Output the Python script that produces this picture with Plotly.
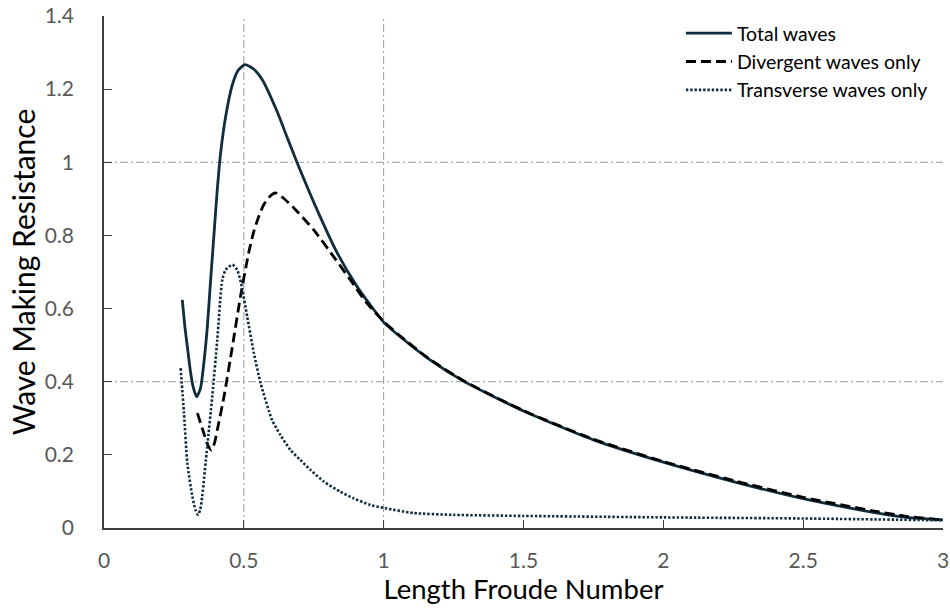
import plotly.graph_objects as go

# ---- data ----
total_x = [0.280, 0.290, 0.298, 0.310, 0.319, 0.331, 0.345, 0.357, 0.369, 0.381, 0.393, 0.405,
           0.417, 0.435, 0.459, 0.480, 0.504, 0.535, 0.566, 0.619, 0.655, 0.691, 0.762, 0.834,
           0.905, 0.95, 1.0, 1.056, 1.162, 1.287, 1.5, 1.75, 2.0, 2.25, 2.5, 2.75, 2.87, 3.0]
total_y = [0.624, 0.545, 0.496, 0.423, 0.385, 0.359, 0.382, 0.451, 0.545, 0.675, 0.800, 0.925,
           1.025, 1.125, 1.212, 1.252, 1.267, 1.255, 1.226, 1.139, 1.068, 0.998, 0.870, 0.752,
           0.660, 0.612, 0.563, 0.525, 0.462, 0.401, 0.320, 0.241, 0.180, 0.127, 0.080, 0.043,
           0.029, 0.022]

div_x = [0.334, 0.357, 0.372, 0.384, 0.395, 0.405, 0.429, 0.459, 0.488, 0.518, 0.536, 0.554,
         0.571, 0.592, 0.613, 0.640, 0.679, 0.750, 0.821, 0.881, 0.94, 1.0, 1.056, 1.162, 1.287,
         1.5, 1.75, 2.0, 2.25, 2.5, 2.75, 2.87, 3.0]
div_y = [0.314, 0.259, 0.225, 0.213, 0.232, 0.268, 0.359, 0.496, 0.633, 0.755, 0.812, 0.853,
         0.884, 0.906, 0.916, 0.903, 0.875, 0.815, 0.742, 0.678, 0.615, 0.565, 0.527, 0.463,
         0.402, 0.321, 0.243, 0.182, 0.130, 0.084, 0.047, 0.032, 0.022]

trans_x = [0.274, 0.286, 0.298, 0.316, 0.327, 0.336, 0.344, 0.351, 0.369, 0.387, 0.405, 0.423,
           0.435, 0.459, 0.476, 0.490, 0.512, 0.536, 0.560, 0.601, 0.631, 0.667, 0.702, 0.738,
           0.786, 0.845, 0.893, 0.952, 1.006, 1.106, 1.25, 1.5, 2.0, 2.5, 3.0]
trans_y = [0.437, 0.314, 0.177, 0.086, 0.050, 0.036, 0.050, 0.086, 0.222, 0.359, 0.514, 0.679,
           0.706, 0.720, 0.706, 0.670, 0.578, 0.478, 0.396, 0.295, 0.254, 0.213, 0.186, 0.159,
           0.127, 0.099, 0.081, 0.063, 0.054, 0.041, 0.036, 0.033, 0.029, 0.026, 0.021]

x_ticks = [0, 0.5, 1, 1.5, 2, 2.5, 3]
x_tick_text = ["0", "0.5", "1", "1.5", "2", "2.5", "3"]
y_ticks = [0, 0.2, 0.4, 0.6, 0.8, 1.0, 1.2, 1.4]
y_tick_text = ["0", "0.2", "0.4", "0.6", "0.8", "1", "1.2", "1.4"]
ref_x = [0.5, 1.0]
ref_y = [0.4, 1.0]

NAVY = "#0f2d3d"
FONT = "Lato"
SPL = dict(shape="spline", smoothing=0.6)

fig = go.Figure()
fig.add_trace(go.Scatter(x=total_x, y=total_y, mode="lines", name="Total waves",
                         line=dict(color=NAVY, width=2.8, **SPL)))
fig.add_trace(go.Scatter(x=div_x, y=div_y, mode="lines", name="Divergent waves only",
                         line=dict(color="#000000", width=2.8, dash="10px,5px", **SPL)))
fig.add_trace(go.Scatter(x=trans_x, y=trans_y, mode="lines", name="Transverse waves only",
                         line=dict(color=NAVY, width=2.6, dash="2.4px,1.9px", **SPL)))

for v in ref_x:
    fig.add_shape(type="line", xref="x", yref="paper", x0=v, x1=v, y0=0, y1=1,
                  line=dict(color="#9a9a9a", width=1, dash="8px,3px,2px,3px"), layer="below")
for v in ref_y:
    fig.add_shape(type="line", xref="paper", yref="y", x0=0, x1=1, y0=v, y1=v,
                  line=dict(color="#9a9a9a", width=1, dash="8px,3px,2px,3px"), layer="below")

fig.update_layout(
    width=950, height=610,
    margin=dict(l=104, r=7, t=16, b=82),
    paper_bgcolor="white", plot_bgcolor="white",
    font=dict(family=FONT, color="#000000"),
    showlegend=True,
    legend=dict(x=0.988, xanchor="right", y=1.004, yanchor="top",
                bgcolor="rgba(0,0,0,0)", font=dict(size=19.5, family=FONT, color="#000000"),
                itemwidth=46, tracegroupgap=0),
    xaxis=dict(range=[0, 3], tickvals=x_ticks, ticktext=x_tick_text, showgrid=False,
               zeroline=False, showline=True, linecolor="#404040", linewidth=1.6,
               ticks="inside", ticklen=8, tickcolor="#404040", tickwidth=1.4, automargin=False,
               tickfont=dict(size=21, color="#595959", family=FONT), ticklabelstandoff=13,
               title=dict(text="Length Froude Number", font=dict(size=27.5, color="#000000", family=FONT),
                          standoff=9)),
    yaxis=dict(range=[0, 1.4], tickvals=y_ticks, ticktext=y_tick_text, showgrid=False,
               zeroline=False, showline=True, linecolor="#404040", linewidth=1.6,
               ticks="inside", ticklen=8, tickcolor="#404040", tickwidth=1.4, automargin=False,
               tickfont=dict(size=21, color="#595959", family=FONT), ticklabelstandoff=24,
               title=dict(text="Wave Making Resistance", font=dict(size=30, color="#000000", family=FONT),
                          standoff=0)),
)

fig.write_html("out.html")
